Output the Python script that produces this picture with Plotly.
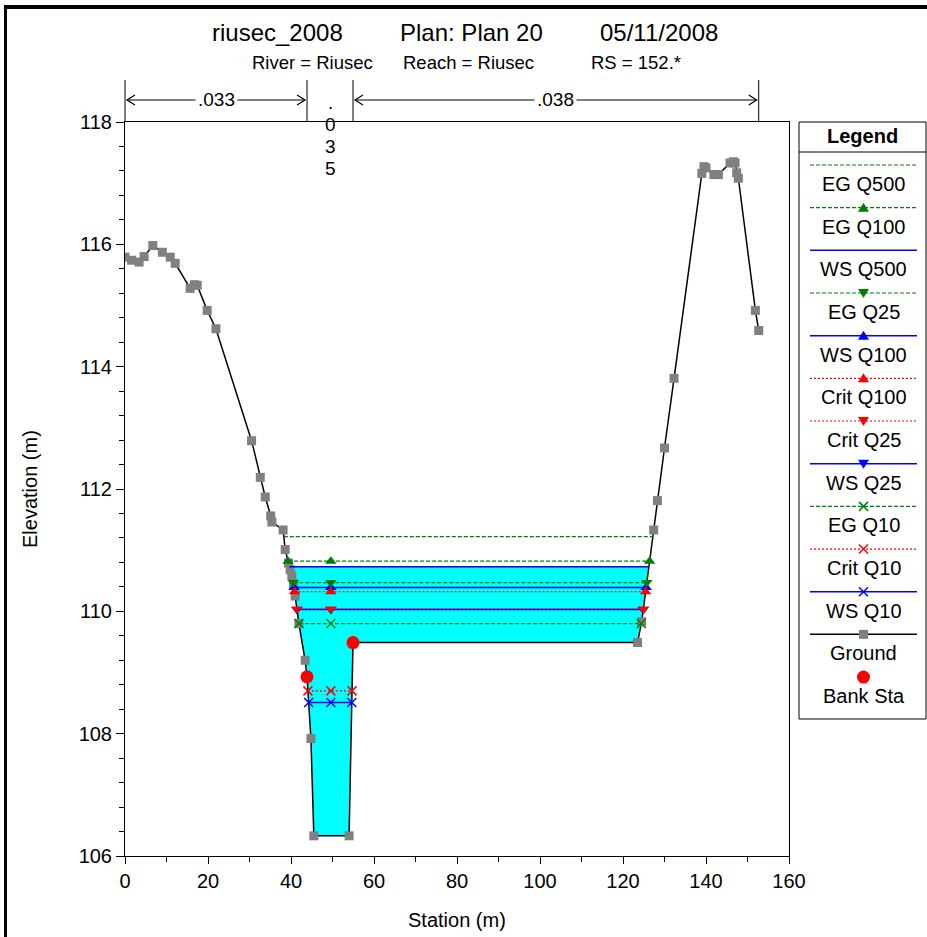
import numpy as np
import plotly.graph_objects as go

# ---------------- data ----------------
station = [0.0, 1.6, 3.4, 4.6, 6.7, 9.0, 10.9, 12.1, 15.7, 16.7, 17.4, 19.8, 21.9,
           30.5, 32.6, 33.8, 35.1, 35.4, 38.1, 38.6, 39.4, 39.8, 40.2, 40.6, 41.0,
           41.9, 43.4, 43.86, 44.8, 45.5, 54.0, 54.94, 123.5, 124.5, 127.4, 128.3,
           130.0, 132.3, 139.0, 139.5, 140.0, 141.9, 143.0, 145.8, 146.6, 147.0,
           147.4, 147.8, 151.9, 152.7]
elevation = [115.79, 115.74, 115.71, 115.80, 115.98, 115.87, 115.79, 115.69, 115.28, 115.34,
             115.33, 114.92, 114.62, 112.79, 112.19, 111.87, 111.56, 111.46, 111.33, 111.01,
             110.79, 110.68, 110.58, 110.45, 110.25, 109.80, 109.20, 108.93, 107.92, 106.33,
             106.33, 109.49, 109.49, 109.83, 111.33, 111.81, 112.67, 113.81, 117.16, 117.27,
             117.25, 117.14, 117.14, 117.33, 117.35, 117.33, 117.17, 117.08, 114.92, 114.59]

bank_station = [43.86, 54.94]
bank_elevation = [108.93, 109.49]

profile_names = ["EG Q500", "EG Q100", "WS Q500", "EG Q25", "WS Q100", "Crit Q100",
                 "Crit Q25", "WS Q25", "EG Q10", "Crit Q10", "WS Q10"]
profile_elev = [111.22, 110.82, 110.73, 110.47, 110.39, 110.32,
                110.04, 110.03, 109.80, 108.70, 108.51]
marker_station = 49.6

n_labels = [".033", ".035", ".038"]
n_breaks = [0.0, 43.86, 54.94, 152.7]

title_parts = ["riusec_2008", "Plan: Plan 20", "05/11/2008"]
subtitle_parts = ["River = Riusec", "Reach = Riusec", "RS = 152.*"]

# ---------------- styles ----------------
GREEN, BLUE, RED, GRAY = "#008000", "#0000FF", "#FF0000", "#808080"
FONT = "Arial, Liberation Sans, sans-serif"


def style_of(name):
    if name.startswith("EG"):
        return dict(color=GREEN, dash="4px,2px", width=1.2)
    if name.startswith("WS"):
        return dict(color=BLUE, dash="solid", width=1.5)
    return dict(color=RED, dash="2px,2px", width=1.2)


symbols = {"EG Q500": None, "EG Q100": "triangle-up", "WS Q500": None,
           "EG Q25": "triangle-down", "WS Q100": "triangle-up", "Crit Q100": "triangle-up",
           "Crit Q25": "triangle-down", "WS Q25": "triangle-down", "EG Q10": "x-thin",
           "Crit Q10": "x-thin", "WS Q10": "x-thin"}

st = np.array(station)
el = np.array(elevation)


def crossings(level):
    i0 = int(np.argmin(el))
    i = i0
    while i > 0 and el[i - 1] < level:
        i -= 1
    a, b = i - 1, i
    xl = st[a] + (level - el[a]) * (st[b] - st[a]) / (el[b] - el[a])
    j = i0
    while j < len(st) - 1 and el[j + 1] < level:
        j += 1
    a, b = j, j + 1
    xr = st[a] + (level - el[a]) * (st[b] - st[a]) / (el[b] - el[a])
    return xl, xr, i, j


fig = go.Figure()

# cyan fill of the highest water surface
ws_top = profile_elev[profile_names.index("WS Q500")]
xl, xr, i, j = crossings(ws_top)
fx = [xl] + list(st[i:j + 1]) + [xr, xl]
fy = [ws_top] + list(el[i:j + 1]) + [ws_top, ws_top]
fig.add_trace(go.Scatter(x=fx, y=fy, mode="lines", fill="toself", fillcolor="#00FFFF",
                         line=dict(width=0), hoverinfo="skip", showlegend=False))

# ground
fig.add_trace(go.Scatter(x=station, y=elevation, mode="lines+markers",
                         line=dict(color="black", width=1.5),
                         marker=dict(symbol="square", size=9, color=GRAY),
                         showlegend=False))

draw_order = ["WS Q10", "Crit Q10", "EG Q10", "WS Q25", "Crit Q25", "WS Q100", "Crit Q100",
              "EG Q25", "WS Q500", "EG Q100", "EG Q500"]
for name in draw_order:
    lev = profile_elev[profile_names.index(name)]
    xl, xr, _, _ = crossings(lev)
    s = style_of(name)
    sym = symbols[name]
    if sym is None:
        fig.add_trace(go.Scatter(x=[xl, xr], y=[lev, lev], mode="lines",
                                 line=dict(color=s["color"], dash=s["dash"], width=s["width"]),
                                 showlegend=False))
    else:
        mk = dict(symbol=sym, size=10, color=s["color"])
        if sym == "x-thin":
            mk = dict(symbol=sym, size=9, color=s["color"], line=dict(color=s["color"], width=1.5))
        fig.add_trace(go.Scatter(x=[xl, marker_station, xr], y=[lev, lev, lev],
                                 mode="lines+markers",
                                 line=dict(color=s["color"], dash=s["dash"], width=s["width"]),
                                 marker=mk, showlegend=False))

# bank stations
fig.add_trace(go.Scatter(x=bank_station, y=bank_elevation, mode="markers",
                         marker=dict(symbol="circle", size=13, color=RED),
                         showlegend=False))

# ---------------- layout helpers (pixel -> paper) ----------------
L, R, T, B = 125, 789, 122, 856
W, H = 927, 937


def PX(px):
    return (px - L) / (R - L)


def PY(py):
    return (B - py) / (B - T)


def text_ann(text, px, py, size, **kw):
    d = dict(text=text, x=PX(px), y=PY(py), xref="paper", yref="paper",
             xanchor="center", yanchor="middle", showarrow=False,
             font=dict(size=size, color="black", family=FONT))
    d.update(kw)
    return d


shapes = []
annotations = []

# outer frame (left and top)
shapes.append(dict(type="rect", xref="paper", yref="paper",
                   x0=PX(4), x1=PX(W), y0=PY(9), y1=PY(6),
                   line=dict(width=0), fillcolor="black", layer="above"))
shapes.append(dict(type="rect", xref="paper", yref="paper",
                   x0=PX(4), x1=PX(7), y0=PY(H), y1=PY(6),
                   line=dict(width=0), fillcolor="black", layer="above"))

# titles
for t, x in zip(title_parts, [277, 471, 659]):
    annotations.append(text_ann(t, x, 33, 24))
for t, x in zip(subtitle_parts, [312, 468, 636]):
    annotations.append(text_ann(t, x, 63, 18.5))

# Manning's n region markers
xmin, xmax = 0, 160
px_per_m = (R - L) / (xmax - xmin)
for b in n_breaks:
    shapes.append(dict(type="line", xref="paper", yref="paper", x0=b / xmax, x1=b / xmax,
                       y0=1.0, y1=PY(80), line=dict(color="black", width=1)))
arrow_y = 100
for k, lab in enumerate(n_labels):
    a, b = n_breaks[k], n_breaks[k + 1]
    pc = L + (a + b) / 2 * px_per_m
    if lab == ".035":
        for ch, yy in zip(lab, [102, 124, 146, 168]):
            annotations.append(text_ann(ch, pc, yy, 19))
        continue
    pa = L + a * px_per_m + 2
    pb = L + b * px_per_m - 2
    shapes.append(dict(type="line", xref="paper", yref="paper", x0=PX(pa), x1=PX(pb),
                       y0=PY(arrow_y), y1=PY(arrow_y), line=dict(color="black", width=1)))
    shapes.append(dict(type="path", xref="paper", yref="paper",
                       path=f"M {PX(pa + 8)},{PY(arrow_y - 5)} L {PX(pa)},{PY(arrow_y)} L {PX(pa + 8)},{PY(arrow_y + 5)}",
                       line=dict(color="black", width=1.2)))
    shapes.append(dict(type="path", xref="paper", yref="paper",
                       path=f"M {PX(pb - 8)},{PY(arrow_y - 5)} L {PX(pb)},{PY(arrow_y)} L {PX(pb - 8)},{PY(arrow_y + 5)}",
                       line=dict(color="black", width=1.2)))
    annotations.append(text_ann(lab, pc, arrow_y, 19, bgcolor="white", borderpad=2))

# custom legend
LX0, LX1, LY0, LY1 = 799, 926, 122, 719
shapes.append(dict(type="rect", xref="paper", yref="paper", x0=PX(LX0), x1=PX(LX1),
                   y0=PY(LY1), y1=PY(LY0), line=dict(color="black", width=1), fillcolor="white",
                   layer="below"))
shapes.append(dict(type="line", xref="paper", yref="paper", x0=PX(LX0), x1=PX(LX1),
                   y0=PY(152), y1=PY(152), line=dict(color="black", width=1)))
annotations.append(text_ann("<b>Legend</b>", 862, 136, 20))

legend_names = profile_names + ["Ground", "Bank Sta"]
sx0, sx1, cx = 810, 917, 863.5
step = 42.67
for k, name in enumerate(legend_names):
    yl = 165 + k * step
    if name == "Ground":
        shapes.append(dict(type="line", xref="paper", yref="paper", x0=PX(sx0), x1=PX(sx1),
                           y0=PY(yl), y1=PY(yl), line=dict(color="black", width=1.5)))
        shapes.append(dict(type="rect", xref="paper", yref="paper", x0=PX(cx - 4.5), x1=PX(cx + 4.5),
                           y0=PY(yl + 4.5), y1=PY(yl - 4.5), line=dict(width=0), fillcolor=GRAY))
    elif name == "Bank Sta":
        shapes.append(dict(type="circle", xref="paper", yref="paper", x0=PX(cx - 6.5), x1=PX(cx + 6.5),
                           y0=PY(yl + 6.5), y1=PY(yl - 6.5), line=dict(width=0), fillcolor=RED))
    else:
        s = style_of(name)
        shapes.append(dict(type="line", xref="paper", yref="paper", x0=PX(sx0), x1=PX(sx1),
                           y0=PY(yl), y1=PY(yl),
                           line=dict(color=s["color"], width=s["width"], dash=s["dash"])))
        sym = symbols[name]
        if sym == "triangle-up":
            shapes.append(dict(type="path", xref="paper", yref="paper",
                               path=f"M {PX(cx)},{PY(yl - 5)} L {PX(cx + 5.5)},{PY(yl + 4)} L {PX(cx - 5.5)},{PY(yl + 4)} Z",
                               line=dict(width=0), fillcolor=s["color"]))
        elif sym == "triangle-down":
            shapes.append(dict(type="path", xref="paper", yref="paper",
                               path=f"M {PX(cx)},{PY(yl + 5)} L {PX(cx + 5.5)},{PY(yl - 4)} L {PX(cx - 5.5)},{PY(yl - 4)} Z",
                               line=dict(width=0), fillcolor=s["color"]))
        elif sym == "x-thin":
            shapes.append(dict(type="path", xref="paper", yref="paper",
                               path=f"M {PX(cx - 4.5)},{PY(yl - 4.5)} L {PX(cx + 4.5)},{PY(yl + 4.5)} M {PX(cx - 4.5)},{PY(yl + 4.5)} L {PX(cx + 4.5)},{PY(yl - 4.5)}",
                               line=dict(color=s["color"], width=1.5)))
    annotations.append(text_ann(name, cx, yl + 19, 20))

# axis titles
annotations.append(text_ann("Station (m)", 457, 920, 20))
annotations.append(text_ann("Elevation (m)", 30, 489, 20, textangle=-90))

fig.update_layout(
    width=W, height=H, autosize=False,
    margin=dict(l=L, r=W - R, t=T, b=H - B, pad=0),
    paper_bgcolor="white", plot_bgcolor="white",
    font=dict(family=FONT, size=20, color="black"),
    showlegend=False,
    shapes=shapes, annotations=annotations,
    xaxis=dict(range=[xmin, xmax], tickmode="linear", tick0=0, dtick=20,
               ticks="outside", ticklen=7, tickwidth=1, tickcolor="black",
               minor=dict(dtick=10, ticks="outside", ticklen=5, tickcolor="black", showgrid=False),
               showline=True, linecolor="black", linewidth=1, mirror=True,
               showgrid=False, zeroline=False, tickfont=dict(size=20)),
    yaxis=dict(range=[106, 118], tickmode="linear", tick0=106, dtick=2,
               ticks="outside", ticklen=8, tickwidth=1, tickcolor="black",
               minor=dict(dtick=0.4, tick0=106, ticks="outside", ticklen=5, tickcolor="black", showgrid=False),
               showline=True, linecolor="black", linewidth=1, mirror=True,
               showgrid=False, zeroline=False, tickfont=dict(size=20)),
)

frame_js = (
    "document.body.style.margin='0px';document.body.style.overflow='hidden';"
    "var f=document.createElement('div');"
    "f.style.cssText='position:absolute;left:4px;top:5px;width:930px;height:940px;"
    "border-top:3px solid black;border-left:3px solid black;pointer-events:none;z-index:10;';"
    "document.body.appendChild(f);"
)
fig.write_html("out.html", config={"displayModeBar": False}, post_script=frame_js)
